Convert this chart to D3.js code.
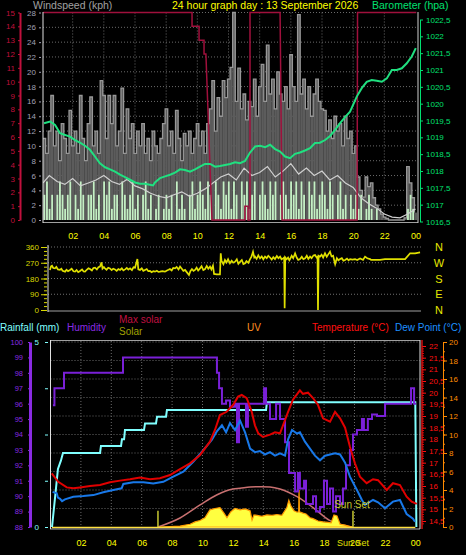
<!DOCTYPE html>
<html><head><meta charset="utf-8">
<script src="https://cdn.jsdelivr.net/npm/d3@7"></script>
<style>html,body{margin:0;padding:0;background:#000;}svg{display:block;font-family:"Liberation Sans",Arial,sans-serif;}</style>
</head><body><svg id="c" width="466" height="555"></svg>
<script>
// ---------- DATA ----------
const hourTicks = [2,4,6,8,10,12,14,16,18,20,22,24];
const windTicks = [0,2,4,6,8,10,12,14,16,18,20,22,24,26,28];
const redTopTicks = [0,1,2,3,4,5,6,7,8,9,10,11,12,13,14,15];
const baroTicks = [1016.5,1017,1017.5,1018,1018.5,1019,1019.5,1020,1020.5,1021,1021.5,1022,1022.5];
const dirTicks = [0,90,180,270,360];
const compass = ["N","W","S","E","N"];
const humTicks = [88,89,90,91,92,93,94,95,96,97,98,99,100];
const rainTicks = [0,1.25,2.5,3.75,5];
const tempTicks = [14.5,15,15.5,16,16.5,17,17.5,18,18.5,19,19.5,20,20.5,21,21.5,22];
const uvTicks = [0,2,4,6,8,10,12,14,16,18,20];

// wind gust (kph), one value every 10 minutes starting 00:06
const gust = [
 11,9,12,16.8,10,12,8,13,11,9,14.8,10,
 12,9,16.8,11,8,13,16.6,10,12,9,18.8,16.8,
 11,16.8,13,16.8,10,12,17.8,9,15,11,13,9,
 12,10,13,9,11,8,12,10,9,11,13,15,
 10,12,9,14.8,11,8,11.7,10,12,9,11,13,
 10,12,9,13,15,18.8,12,16.5,14,18.8,16.5,19,
 20.6,28,16,20.5,15,17,13.5,16,15.3,19,14,18,
 21,16,23.6,17,19,15,20,17,16,18,15,22.3,
 18,16,27.7,17,19,15,18,14,17,19,16,15,
 14.8,12,13.5,11,14,12,13,10,14,11,12,9,
 10,5.8,4,3.1,5.8,4.5,5,3,2,1.5,0.8,0.4,
 0.2,0,0,0,0,0,0,0.3,7.2,5,3,1];
// wind speed (kph), same times
const speed = [
 3.4,5.2,1.5,3.4,0,3.4,5.2,3.4,1.5,3.4,5.2,0,
 3.4,1.5,5.2,3.4,0,3.4,3.4,5.2,1.5,3.4,0,5.2,
 3.4,5.2,1.5,3.4,3.4,0,5.2,3.4,1.5,3.4,5.2,1.5,
 3.4,0,3.4,5.2,1.5,3.4,0,1.5,3.4,0,1.5,3.4,
 1.5,3.4,0,5.2,1.5,3.4,1.5,0,3.4,5.2,1.5,3.4,
 5.2,3.4,1.5,5.2,3.4,0,5.2,3.4,1.5,5.2,3.4,5.2,
 1.5,5.2,3.4,0,5.2,3.4,5.2,1.5,3.4,5.2,0,3.4,
 5.2,3.4,1.5,5.2,3.4,5.2,0,3.4,5.2,3.4,1.5,5.2,
 3.4,5.2,1.5,5.2,3.4,0,5.2,3.4,5.2,1.5,3.4,5.2,
 3.4,1.5,5.2,3.4,0,3.4,5.2,1.5,3.4,0,3.4,1.5,
 3.4,1.5,3.4,0,1.5,3.4,1.5,0,1.5,0,0,0,
 0,0,0,0,0,0,0,0,1.5,3.4,1.5,0];
// average wind (kph), every 30 minutes
const avgHours = [0.1,0.5,1,1.5,2,2.5,3,3.5,4,4.5,5,5.5,6,6.5,7,7.5,8,8.5,9,9.5,10,10.5,11,11.5,12,12.5,13,13.5,14,14.5,15,15.5,16,16.5,17,17.5,18,18.5,19,19.5,20,20.5,21,21.5,22,22.5,23,23.5,24];
const avgWind = [5.0,6.0,5.2,4.8,5.6,4.6,5.0,5.4,6.0,5.2,4.8,5.5,4.6,4.2,3.6,3.2,3.0,3.4,3.8,3.2,3.6,4.2,5.0,5.8,6.2,5.4,7.0,6.0,6.4,7.2,5.8,6.6,7.6,6.2,7.0,6.0,6.6,5.4,6.0,5.0,4.4,3.0,2.2,1.6,0.8,0.4,0.3,0.8,1.5];
// red step series (0-15 scale)
const redHours = [0.1,9.66,9.66,10.11,10.11,10.43,10.43,10.55,10.94,13.05,13.05,13.25,13.25,13.38,13.38,15.31,15.44,20.25,20.28,24.05];
const redValues = [15,15,14,14,13,13,12,12,0,0,1,1,0,0,15,15,0,0,15,15];
// barometer (hPa)
const baroHours = [0.16,0.55,0.87,1.19,1.51,1.83,2.15,2.47,2.79,3.11,3.43,3.75,4.08,4.4,4.72,5.04,5.36,5.68,6.0,6.32,6.64,6.96,7.16,7.28,7.61,7.93,8.25,8.57,8.89,9.21,9.53,9.85,10.17,10.49,10.82,11.14,11.46,11.78,12.1,12.42,12.74,13.06,13.38,13.71,14.03,14.35,14.67,14.99,15.31,15.63,15.95,16.27,16.59,16.91,17.23,17.55,17.87,18.2,18.52,18.84,19.16,19.48,19.8,20.23,20.55,20.87,21.19,21.51,21.84,22.16,22.48,22.8,23.12,23.44,23.76,24.02];
const baro = [1019.42,1019.47,1019.37,1019.12,1019.07,1019.02,1018.92,1018.84,1018.75,1018.63,1018.43,1018.23,1018.11,1018.05,1017.98,1017.89,1017.82,1017.74,1017.66,1017.62,1017.62,1017.59,1017.57,1017.66,1017.79,1017.84,1017.89,1017.95,1018.05,1018.03,1017.98,1018.05,1018.13,1018.21,1018.21,1018.13,1018.15,1018.18,1018.21,1018.26,1018.23,1018.3,1018.55,1018.73,1018.75,1018.71,1018.78,1018.65,1018.58,1018.43,1018.38,1018.51,1018.55,1018.61,1018.68,1018.83,1018.84,1018.92,1019.04,1019.22,1019.42,1019.6,1019.76,1020.21,1020.46,1020.65,1020.7,1020.68,1020.65,1020.75,1021.0,1021.0,1021.05,1021.2,1021.4,1021.65];
// wind direction (degrees)
const dirHours = [0.19,0.26,0.32,0.4,0.51,0.6,0.7,0.83,0.92,1.0,1.16,1.25,1.35,1.48,1.58,1.7,1.8,1.9,2.0,2.12,2.25,2.35,2.44,2.55,2.66,2.76,2.88,2.98,3.08,3.2,3.3,3.4,3.5,3.56,3.65,3.72,3.82,3.93,4.04,4.15,4.25,4.36,4.47,4.58,4.69,4.8,4.9,5.01,5.12,5.22,5.33,5.45,5.55,5.65,5.8,5.86,5.97,6.08,6.18,6.29,6.4,6.5,6.61,6.72,6.82,6.93,7.05,7.15,7.25,7.4,7.57,7.7,7.8,7.89,8.0,8.1,8.22,8.32,8.44,8.54,8.65,8.75,8.86,8.98,9.11,9.2,9.3,9.4,9.5,9.6,9.7,9.82,9.92,10.03,10.14,10.25,10.35,10.46,10.55,10.65,10.72,10.9,11.1,11.15,11.2,11.23,11.32,11.42,11.52,11.62,11.74,11.85,11.95,12.07,12.18,12.28,12.39,12.5,12.6,12.71,12.8,12.92,13.03,13.12,13.22,13.3,13.35,13.45,13.56,13.67,13.78,13.88,13.99,14.1,14.2,14.31,14.42,14.52,14.63,14.75,14.85,14.96,15.05,15.15,15.22,15.25,15.29,15.38,15.47,15.55,15.6,15.7,15.8,15.92,16.02,16.12,16.24,16.35,16.45,16.56,16.67,16.77,16.88,16.98,17.1,17.2,17.3,17.36,17.39,17.43,17.52,17.62,17.72,17.84,17.95,18.05,18.16,18.26,18.36,18.49,18.6,18.7,18.81,18.92,19.02,19.13,19.25,19.35,19.45,19.6,19.77,19.9,20.09,20.2,20.28,20.41,20.55,20.73,20.8,21.37,21.69,22.98,23.3,23.62,23.94];
const dirValues = [229,250,253,240,238,246,232,229,236,224,219,230,222,229,236,221,219,228,216,223,232,220,219,230,238,234,226,240,242,232,244,248,272,236,245,238,230,242,238,228,236,232,224,234,229,238,226,232,240,231,238,228,244,242,291,232,229,238,224,229,234,222,223,216,222,219,224,218,219,222,219,226,230,234,226,240,238,246,232,248,236,224,229,215,200,222,234,224,229,242,226,238,250,228,234,252,236,248,232,253,206,204,204,324,280,276,262,286,272,290,267,282,270,276,290,264,276,286,262,267,280,270,291,305,333,300,305,292,312,295,306,290,305,296,310,300,288,302,291,308,296,305,290,295,300,10,300,290,300,284,291,310,296,324,300,286,291,304,290,295,310,292,305,296,312,314,300,305,0,310,305,316,300,324,304,318,333,306,310,262,296,284,291,296,282,286,294,284,291,288,291,286,295,290,286,305,296,291,286,286,291,291,324,324,329];
// rainfall (mm)
const rainHours = [0.1,0.3,0.49,0.69,0.82,3.26,3.32,4.64,4.7,4.84,4.9,6.15,6.22,6.94,7.01,7.6,7.66,14.18,14.24,24.0,24.07];
const rain = [0,0.8,1.57,1.8,2.0,2.0,2.19,2.19,2.37,2.37,2.62,2.62,2.8,2.8,2.98,2.98,3.16,3.16,3.37,3.37,0];
// humidity (%)
const humHours = [0.16,0.26,0.82,0.89,4.68,4.77,10.82,10.95,11.09,11.28,11.55,11.81,12.14,12.27,12.4,12.73,12.86,12.99,13.45,13.91,14.05,14.18,14.31,14.44,14.7,14.84,15.1,15.3,15.43,15.56,15.69,15.95,16.09,16.28,16.41,16.68,16.81,17.07,17.27,17.47,17.73,17.99,18.19,18.39,18.59,18.78,19.05,19.24,19.44,19.7,19.9,20.16,20.49,20.62,20.88,21.15,21.48,21.88,22.01,23.65,23.72,23.85,23.92,24.05];
const humidity = [95.9,97,97,98,98,99,99,98,97,96,96.2,95.8,96,93.5,96,96,94.5,96,96,96,97,96,96,95,95,96,95,95,93.5,93.5,91.5,91.5,90.3,91.5,90.5,91,89.5,89.5,90,89,89.3,91,89.5,90.5,89,90,89.5,90.5,92,93,94,94.3,95,94.3,95,95.3,95.2,95.2,96,96,97,97,96,96];
// temperature (°C)
const tempHours = [0.08,0.51,1.07,1.5,1.94,2.6,3.26,3.91,4.57,5.23,5.89,6.55,7.2,7.86,8.52,9.18,9.84,10.49,10.82,11.15,11.59,12.01,12.34,12.58,12.91,13.24,13.45,13.67,13.98,14.44,14.77,15.1,15.63,15.95,16.41,16.61,16.94,17.27,17.6,17.93,18.39,18.72,19.05,19.38,19.7,20.03,20.36,20.8,21.22,21.55,22.12,22.53,22.99,23.43,23.76,24.09];
const temperature = [16.54,16.18,15.94,15.9,15.94,16.0,16.04,16.16,16.23,16.29,16.36,16.29,16.33,16.47,16.72,16.97,17.33,17.9,18.4,19.04,19.18,19.47,19.83,19.9,19.76,19.18,18.6,18.26,18.1,18.2,18.3,18.26,19.18,19.7,20.1,19.95,20.0,19.77,19.47,18.9,18.76,19.18,18.9,18.5,17.68,16.97,16.4,16.12,16.29,16.25,15.83,16.12,16.04,15.54,15.33,15.23];
// dew point (°C)
const dewHours = [0.14,0.41,0.49,0.63,0.76,0.95,1.5,2.16,2.82,3.47,4.13,4.68,4.79,5.45,6.11,6.76,7.42,8.08,8.74,9.39,10.05,10.61,10.93,11.28,11.55,11.81,12.14,12.47,12.8,13.13,13.45,13.78,14.11,14.44,14.77,15.1,15.43,15.63,15.89,16.22,16.41,16.74,17.07,17.4,17.73,18.06,18.39,18.72,19.05,19.38,19.7,20.16,20.49,20.69,21.22,21.55,22.01,22.53,22.99,23.43,23.85,23.98];
const dewPoint = [15.75,15.69,15.5,15.45,15.35,15.43,15.54,15.57,15.61,15.73,15.83,15.9,16.09,16.16,16.16,16.11,16.18,16.4,16.61,17.04,17.54,17.97,18.33,18.6,18.3,18.7,18.4,18.8,18.3,17.6,17.45,17.5,17.35,17.45,17.3,17.4,17.3,18.0,18.4,18.25,18.3,17.9,17.6,17.3,17.1,17.3,17.35,17.4,17.35,17.0,16.4,15.83,15.4,15.19,15.4,15.3,15.05,15.33,15.4,14.8,14.6,14.47];
// max solar and solar (W/m²)
const maxSolarHours = [7.07,8.52,9.84,10.93,12.01,12.47,13.13,13.91,14.44,15.1,16.22,17.27,18.39,19.24,19.83];
const maxSolar = [0,195,476,692,822,837,865,871,865,822,655,420,136,43,0];
const solarHours = [7.2,7.86,8.52,9.18,9.51,9.84,10.16,10.49,10.82,11.15,11.41,11.61,11.87,12.14,12.47,12.8,13.13,13.26,13.39,13.59,13.91,14.24,14.57,14.9,15.22,15.55,15.68,15.82,16.02,16.22,16.33,16.35,16.38,16.61,16.81,17.07,17.27,17.6,17.93,18.26,18.46,18.65,18.85,19.05,19.38,19.7,19.9];
const solar = [0,10,20,60,110,140,200,370,400,420,300,200,330,400,370,390,350,150,260,250,230,260,250,270,250,420,580,450,350,320,330,800,330,300,280,200,180,130,110,100,90,260,240,60,40,10,0];
const sunHours = [7.07,19.9];
const sunMarker = 350;

// ---------- SCALES ----------
const svg = d3.select("#c");
svg.append("rect").attr("width",466).attr("height",555).attr("fill","#000");
const xTop = d3.scaleLinear([0,24],[41.5,415.5]);
const xMid = d3.scaleLinear([0,24],[47,421]);
const xBot = d3.scaleLinear([0,24],[50.5,415.3]);
const yWind = d3.scaleLinear([0,28],[220,12.5]);
const yRedTop = d3.scaleLinear([0,15],[220,12.5]);
const yBaro = d3.scaleLinear([1016.5,1022.5],[221.5,19.5]);
const yDir = d3.scaleLinear([0,360],[310,247]);
const yHum = d3.scaleLinear([88,100],[527,342]);
const yRain = d3.scaleLinear([0,5],[527,342]);
const yTemp = d3.scaleLinear([14.5,22],[521,346]);
const yUV = d3.scaleLinear([0,20],[527,342]);
const ySolar = d3.scaleLinear([0,4000],[527,342]);

const defs = svg.append("defs");
function clip(id,x,y,w,h){defs.append("clipPath").attr("id",id).append("rect").attr("x",x).attr("y",y).attr("width",w).attr("height",h);}
clip("cTop",43,10,374,212); clip("cMid",48,244,373,67); clip("cBot",50.5,340,369.5,189);

function hline(g,x1,x2,y,col,dash,w){g.append("line").attr("x1",x1).attr("x2",x2).attr("y1",y).attr("y2",y).attr("stroke",col).attr("stroke-width",w||1).attr("stroke-dasharray",dash||null);}
function vline(g,x,y1,y2,col,dash,w){g.append("line").attr("x1",x).attr("x2",x).attr("y1",y1).attr("y2",y2).attr("stroke",col).attr("stroke-width",w||1).attr("stroke-dasharray",dash||null);}
function styleAxis(g,col,size,hideDomain,domW){
  g.selectAll("text").attr("fill",col).style("font-size",size+"px").style("font-family","Liberation Sans, Arial, sans-serif");
  g.selectAll("line").attr("stroke",col);
  if(hideDomain) g.select(".domain").remove(); else g.select(".domain").attr("stroke",col).attr("stroke-width",domW||1);
  return g;
}
const comma = d => (d%1 ? d3.format(".1f")(d).replace(".",",") : d3.format("d")(d));

// ---------- TITLES ----------
function txt(x,y,s,col,size,anchor){svg.append("text").attr("x",x).attr("y",y).text(s).attr("fill",col).style("font-size",size+"px").attr("text-anchor",anchor||"start");}
txt(33,9,"Windspeed (kph)","#a0a0a0",10.5);
txt(172,9,"24 hour graph day : 13 September 2026","#ffff00",10.5);
txt(372,9,"Barometer (hpa)","#00e070",10.5);

// ---------- TOP PANEL ----------
const gT = svg.append("g");
windTicks.filter(d=>d>0).forEach(v=>hline(gT,43,417,yWind(v),"#6a6a6a","1,2"));
hourTicks.filter(h=>h<24).forEach(h=>vline(gT,xTop(h),12.5,220,"#6a6a6a","1,2"));
const pT = svg.append("g").attr("clip-path","url(#cTop)");
const gustTimes = gust.map((d,i)=>0.1+i/6);
const bw = xTop(1/6)-xTop(0);
pT.selectAll(".g").data(gust).join("rect").attr("x",(d,i)=>xTop(gustTimes[i])).attr("width",bw+0.1)
  .attr("y",d=>yWind(d)).attr("height",d=>yWind(0)-yWind(d)).attr("fill","#5c5c5c");
pT.append("path").datum(gust).attr("fill","none").attr("stroke","#989898").attr("stroke-width",1.3)
  .attr("d",d3.line().x((d,i)=>xTop(gustTimes[i])).y(d=>yWind(d)).curve(d3.curveStepAfter));
pT.selectAll(".s").data(speed).join("rect").attr("x",(d,i)=>xTop(gustTimes[i])+0.4).attr("width",bw-0.8)
  .attr("y",d=>yWind(d)).attr("height",d=>yWind(0)-yWind(d)).attr("fill","#c4f0c4");
pT.append("path").datum(avgWind).attr("fill","none").attr("stroke","#d0d0d0").attr("stroke-width",1.2)
  .attr("d",d3.line().x((d,i)=>xTop(avgHours[i])).y(d=>yWind(d)));
pT.append("path").datum(redValues).attr("fill","none").attr("stroke","#a0103c").attr("stroke-width",1.5)
  .attr("d",d3.line().x((d,i)=>xTop(redHours[i])).y(d=>yRedTop(d)));
pT.append("path").datum(baro).attr("fill","none").attr("stroke","#20e080").attr("stroke-width",2)
  .attr("d",d3.line().x((d,i)=>xTop(baroHours[i])).y(d=>yBaro(d)));
hline(svg,43,418,222.5,"#a0a0a0");
vline(svg,43,12,223,"#e0e0e0");
vline(svg,418,12,223,"#d0d0d0");
// axes
styleAxis(svg.append("g").attr("transform","translate(41,0)").call(d3.axisLeft(yWind).tickValues(windTicks).tickSize(2).tickPadding(3)),"#a0a0b4",8,true);
styleAxis(svg.append("g").attr("transform","translate(20,0)").call(d3.axisLeft(yRedTop).tickValues(redTopTicks).tickSize(2).tickSizeOuter(0).tickPadding(3)),"#c0103c",8,false,2);
styleAxis(svg.append("g").attr("transform","translate(420,0)").call(d3.axisRight(yBaro).tickValues(baroTicks).tickSize(3).tickSizeOuter(0).tickPadding(3).tickFormat(comma)),"#00e070",8,false);
styleAxis(svg.append("g").attr("transform","translate(0,229)").call(d3.axisBottom(xTop).tickValues(hourTicks).tickSize(0).tickPadding(4).tickFormat(d=>d3.format("02")(d%24))),"#ffff00",9,true);

// ---------- MIDDLE PANEL ----------
const gM = svg.append("g");
dirTicks.filter(d=>d>0).forEach(v=>hline(gM,48,421,yDir(v),"#707070","1,2"));
hline(gM,48,421,yDir(0)+1,"#a0a0a0");
vline(gM,48,245,312,"#e0e0e0");
styleAxis(svg.append("g").attr("transform","translate(47,0)").call(d3.axisLeft(yDir).tickValues(d3.range(0,361,22.5)).tickSize(3).tickFormat("")),"#d8d800",8,true);
styleAxis(svg.append("g").attr("transform","translate(47,0)").call(d3.axisLeft(yDir).tickValues(dirTicks).tickSize(6).tickPadding(2)),"#d8d800",8,true);
svg.append("g").attr("clip-path","url(#cMid)").append("path").datum(dirValues).attr("fill","none").attr("stroke","#e0e000").attr("stroke-width",1.7)
  .attr("d",d3.line().x((d,i)=>xMid(dirHours[i])).y(d=>yDir(d)));
svg.selectAll(".cmp").data(compass).join("text").attr("x",439).attr("y",(d,i)=>yDir(dirTicks[4-i])+4).text(d=>d)
  .attr("fill","#e8e800").attr("text-anchor","middle").style("font-size","11px");

// ---------- BOTTOM PANEL ----------
txt(0,331,"Rainfall (mm)","#80ffff",10);
txt(67,331,"Humidity","#8a2be2",10);
txt(119,323,"Max solar","#c01040",10);
txt(119,335,"Solar","#a0a000",10);
txt(247,331,"UV","#ff9020",10);
txt(312,331,"Temperature (°C)","#ff1010",10);
txt(395,331,"Dew Point (°C)","#1e90ff",10);
const gB = svg.append("g");
uvTicks.filter(d=>d>0).forEach(v=>hline(gB,50.5,420,yUV(v),"#6a6a6a","1,2"));
hourTicks.filter(h=>h<24).forEach(h=>vline(gB,xBot(h),341,527,"#6a6a6a","1,2"));
hline(gB,50,420,340.5,"#a0a0a0");
const pB = svg.append("g").attr("clip-path","url(#cBot)");
pB.append("path").datum(maxSolar).attr("fill","none").attr("stroke","#c87070").attr("stroke-width",1.5)
  .attr("d",d3.line().x((d,i)=>xBot(maxSolarHours[i])).y(d=>ySolar(d)).curve(d3.curveMonotoneX));
pB.append("path").datum(solar).attr("fill","#ffff40").attr("stroke","#ff9a00").attr("stroke-width",1.2)
  .attr("d",d3.area().x((d,i)=>xBot(solarHours[i])).y0(ySolar(0)).y1(d=>ySolar(d)));
hline(pB,xBot(0.1),xBot(24),yUV(0)+0.5,"#ffe040",null,1.5);
sunHours.forEach(h=>vline(pB,xBot(h),ySolar(0),ySolar(sunMarker),"#c8c830",null,1.5));
pB.append("path").datum(rain).attr("fill","none").attr("stroke","#80ffff").attr("stroke-width",2)
  .attr("d",d3.line().x((d,i)=>xBot(rainHours[i])).y(d=>yRain(d)));
pB.append("path").datum(humidity).attr("fill","none").attr("stroke","#7a20d8").attr("stroke-width",2)
  .attr("d",d3.line().x((d,i)=>xBot(humHours[i])).y(d=>yHum(d)).curve(d3.curveStepAfter));
pB.append("path").datum(dewPoint).attr("fill","none").attr("stroke","#1878e8").attr("stroke-width",2)
  .attr("d",d3.line().x((d,i)=>xBot(dewHours[i])).y(d=>yTemp(d)));
pB.append("path").datum(temperature).attr("fill","none").attr("stroke","#e00000").attr("stroke-width",2)
  .attr("d",d3.line().x((d,i)=>xBot(tempHours[i])).y(d=>yTemp(d)));
txt(xBot(sunHours[1])-1,508,"Sun Set","#c8c830",10,"middle");
hline(svg,50,420,529,"#b0b0b0");
vline(svg,50.5,340,529,"#e0e0e0");
vline(svg,420,340,529,"#e0e0e0");
// bottom axes
styleAxis(svg.append("g").attr("transform","translate(30,0)").call(d3.axisLeft(yHum).tickValues(humTicks).tickSize(2).tickSizeOuter(0).tickPadding(5)),"#8a2be2",7.5,false,3);
styleAxis(svg.append("g").attr("transform","translate(48,0)").call(d3.axisLeft(yRain).tickValues(rainTicks).tickSize(3).tickPadding(6).tickFormat(d=>(d===0||d===5)?d:"")),"#80ffff",8,true);
styleAxis(svg.append("g").attr("transform","translate(422,0)").call(d3.axisRight(yTemp).tickValues(d3.range(144,221).map(d=>d/10)).tickSize(2).tickFormat("")),"#e00000",8,true);
styleAxis(svg.append("g").attr("transform","translate(422,0)").call(d3.axisRight(yTemp).tickValues(tempTicks).tickSize(4).tickPadding(3).tickFormat(comma)),"#ff1010",8,true);
vline(svg,422,340,529,"#d01010",null,1.5);
styleAxis(svg.append("g").attr("transform","translate(443,0)").call(d3.axisRight(yUV).tickValues(d3.range(0,21)).tickSize(2).tickFormat("")),"#ff8000",8,true);
styleAxis(svg.append("g").attr("transform","translate(443,0)").call(d3.axisRight(yUV).tickValues(uvTicks).tickSize(4).tickSizeOuter(0).tickPadding(2)),"#ff8c00",8,false);
styleAxis(svg.append("g").attr("transform","translate(0,537)").call(d3.axisBottom(xBot).tickValues(hourTicks).tickSize(0).tickPadding(3).tickFormat(d=>d3.format("02")(d%24))),"#ffff00",9,true);
txt(xBot(sunHours[1]),546,"Sun Set","#e0e000",9,"middle");
</script></body></html>
